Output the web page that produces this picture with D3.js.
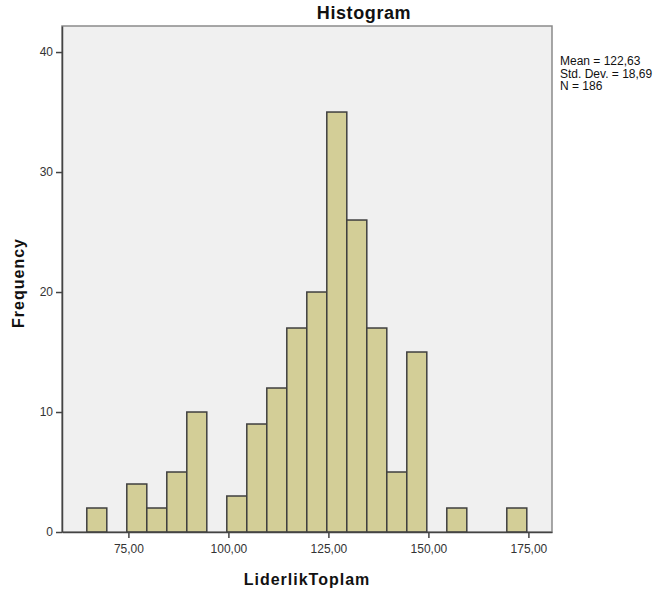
<!DOCTYPE html>
<html>
<head>
<meta charset="utf-8">
<script src="https://cdn.jsdelivr.net/npm/d3@7"></script>
<style>
body { margin: 0; background: #fff; }
text { font-family: Arial, "Liberation Sans", sans-serif; }
</style>
</head>
<body>
<div id="chart"></div>
<script>
// bin lower edges (width 5) and counts
const binStarts = [64.6, 69.6, 74.6, 79.6, 84.6, 89.6, 94.6, 99.6, 104.6, 109.6, 114.6,
    119.6, 124.6, 129.6, 134.6, 139.6, 144.6, 149.6, 154.6, 159.6, 164.6, 169.6];
const counts = [2, 0, 4, 2, 5, 10, 0, 3, 9, 12, 17, 20, 35, 26, 17, 5, 15, 0, 2, 0, 0, 2];
const binWidth = 5;
const xTicks = [75, 100, 125, 150, 175];
const yTicks = [0, 10, 20, 30, 40];
const statsLines = ['Mean = 122,63', 'Std. Dev. = 18,69', 'N = 186'];

const svgWidth = 660;
const svgHeight = 596;
const margin = { top: 26, right: 108, bottom: 64, left: 62 };
const width = svgWidth - margin.left - margin.right;
const height = svgHeight - margin.top - margin.bottom;

const svg = d3.select('#chart')
    .append('svg')
    .attr('width', svgWidth)
    .attr('height', svgHeight);

const g = svg.append('g')
    .attr('transform', 'translate(' + margin.left + ',' + margin.top + ')');

const xScale = d3.scaleLinear()
    .domain([58.4, 180.9])
    .range([0, width]);

const yScale = d3.scaleLinear()
    .domain([0, 42.17])
    .range([height, 0]);

// plot background + frame
g.append('rect')
    .attr('x', 0)
    .attr('y', 0)
    .attr('width', width)
    .attr('height', height)
    .attr('fill', '#f0f0f0')
    .attr('stroke', '#8a8a8a')
    .attr('stroke-width', 1.5);

const bins = binStarts.map((s, i) => ({ x0: s, x1: s + binWidth, n: counts[i] }))
    .filter(d => d.n > 0);

g.selectAll('.bar')
    .data(bins)
    .enter().append('rect')
    .attr('class', 'bar')
    .attr('x', d => xScale(d.x0))
    .attr('y', d => yScale(d.n))
    .attr('width', d => xScale(d.x1) - xScale(d.x0))
    .attr('height', d => yScale(0) - yScale(d.n))
    .attr('fill', '#d3ce97')
    .attr('stroke', '#3f3f3f')
    .attr('stroke-width', 1.5);

const xAxis = g.append('g')
    .attr('transform', 'translate(0,' + height + ')')
    .call(d3.axisBottom(xScale).tickValues(xTicks).tickSizeInner(6).tickSizeOuter(0).tickPadding(6)
        .tickFormat(d => d3.format('.2f')(d).replace('.', ',')));

const yAxis = g.append('g')
    .call(d3.axisLeft(yScale).tickValues(yTicks).tickSizeInner(6).tickSizeOuter(0).tickPadding(3));

[xAxis, yAxis].forEach(ax => {
    ax.select('.domain').attr('stroke', '#444').attr('stroke-width', 1.5);
    ax.selectAll('.tick line').attr('stroke', '#444').attr('stroke-width', 1.5);
    ax.selectAll('.tick text')
        .attr('fill', '#333')
        .style('font-size', '12px')
        .style('font-family', 'Arial, "Liberation Sans", sans-serif');
});

svg.append('text')
    .attr('x', 364)
    .attr('y', 19)
    .attr('text-anchor', 'middle')
    .style('font-size', '18px')
    .style('font-weight', 'bold')
    .style('letter-spacing', '0.6px')
    .attr('fill', '#111')
    .text('Histogram');

svg.append('text')
    .attr('x', margin.left + width / 2)
    .attr('y', 585)
    .attr('text-anchor', 'middle')
    .style('font-size', '16px')
    .style('font-weight', 'bold')
    .style('letter-spacing', '1px')
    .attr('fill', '#111')
    .text('LiderlikToplam');

svg.append('text')
    .attr('transform', 'translate(24,' + (margin.top + height / 2 + 4) + ') rotate(-90)')
    .attr('text-anchor', 'middle')
    .style('font-size', '16px')
    .style('font-weight', 'bold')
    .style('letter-spacing', '1px')
    .attr('fill', '#111')
    .text('Frequency');

svg.append('g')
    .selectAll('text')
    .data(statsLines)
    .enter().append('text')
    .attr('x', 560)
    .attr('y', (d, i) => 65 + i * 12.5)
    .style('font-size', '12px')
    .attr('fill', '#111')
    .text(d => d);
</script>
</body>
</html>
